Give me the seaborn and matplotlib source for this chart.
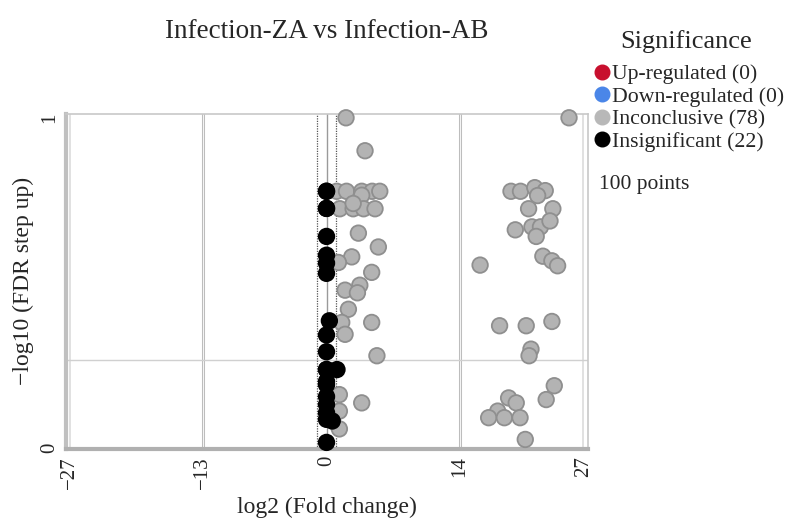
import matplotlib
matplotlib.use("Agg")
import matplotlib.pyplot as plt
from matplotlib.lines import Line2D
import seaborn as sns
import pandas as pd

# gray points (inconclusive)
gray_x = [2.05, 25.5, 4.05,
          1.07, 2.1, 3.7, 4.8, 5.6, 3.7,
          1.4, 2.8, 3.9, 5.1, 2.8,
          3.35, 5.45, 2.65, 1.25, 4.75,
          1.95, 3.5, 3.25, 2.3, 1.6, 1.95, 4.75, 5.3,
          1.35, 1.35, 3.7, 1.35,
          19.4, 20.4, 21.9, 23.0, 22.2,
          21.25, 23.8, 19.85, 21.6, 22.5, 23.5, 22.05,
          22.75, 23.7, 24.3, 16.15,
          18.2, 21.0, 23.7, 21.5, 21.3,
          23.95, 23.1, 19.15, 19.95, 18.0, 17.05, 18.7, 20.35, 20.9]
gray_y = [1.0, 1.0, 0.90,
          0.777, 0.777, 0.777, 0.777, 0.777, 0.765,
          0.724, 0.724, 0.724, 0.724, 0.74,
          0.65, 0.608, 0.578, 0.561, 0.531,
          0.477, 0.492, 0.469, 0.419, 0.379, 0.343, 0.379, 0.278,
          0.16, 0.11, 0.135, 0.056,
          0.777, 0.777, 0.788, 0.779, 0.764,
          0.724, 0.724, 0.66, 0.669, 0.669, 0.687, 0.64,
          0.58, 0.566, 0.551, 0.553,
          0.369, 0.369, 0.382, 0.298, 0.278,
          0.187, 0.145, 0.15, 0.135, 0.11, 0.09, 0.09, 0.09, 0.024]

# black points (insignificant)
black_x = [0.0, 0.0, 0.0, 0.0, 0.0, 0.0, 0.3, 0.0, 0.0, 0.0, 1.1,
           0.0, 0.0, 0.0, 0.0, 0.0, 0.6, 0.0, 0.0, 0.0, 0.0, 0.0]
black_y = [0.777, 0.725, 0.64, 0.583, 0.559, 0.528, 0.384, 0.341, 0.29, 0.236, 0.236,
           0.19, 0.154, 0.13, 0.105, 0.085, 0.08, 0.015, 0.777, 0.725, 0.236, 0.2]

legend_labels = ["Up-regulated (0)", "Down-regulated (0)", "Inconclusive (78)", "Insignificant (22)"]
legend_colors = ["#c8102e", "#4a86e8", "#b8b8b8", "#000000"]

df = pd.DataFrame({
    "fc": gray_x + black_x,
    "fdr": gray_y + black_y,
    "status": ["Inconclusive"] * len(gray_x) + ["Insignificant"] * len(black_x),
})

sns.set_style("white")
plt.rcParams["font.family"] = ["Liberation Serif", "DejaVu Serif"]

fig = plt.figure(figsize=(7.91, 5.27), dpi=100)
ax = fig.add_axes([0.0834, 0.148, 0.66, 0.636])

# grid / reference lines
for xv in [-13, 14]:
    ax.axvline(xv, color="#bdbdbd", lw=2.2, zorder=0)
    ax.axvline(xv, color="white", lw=0.6, zorder=0)
for xv in [-27, 27]:
    ax.axvline(xv, color="#dcdcdc", lw=1.2, zorder=0)
ax.axhline(0.264, color="#d0d0d0", lw=1.0, zorder=0)
ax.axvline(0, color="#9a9a9a", lw=1.0, zorder=0)
for xv in [-1, 1]:
    ax.axvline(xv, color="#555555", lw=0.9, ls=(0, (1, 1)), zorder=0)

sns.scatterplot(data=df, x="fc", y="fdr", hue="status",
                palette={"Inconclusive": "#b3b3b3", "Insignificant": "#000000"},
                edgecolor=["#8f8f8f"] * len(gray_x) + ["#000000"] * len(black_x),
                linewidth=1.3, s=125, legend=False, ax=ax, zorder=3, clip_on=False)

ax.set_xlim(-27.4, 27.5)
ax.set_ylim(-0.005, 1.012)
ax.set_xticks([-27, -13, 0, 14, 27])
ax.set_xticklabels(["\u221227", "\u221213", "0", "14", "27"], rotation=90)
ax.set_yticks([0, 1])
ax.set_yticklabels(["0", "1"], rotation=90, va="center")
ax.tick_params(axis="both", labelsize=15, length=3, color="#999999", pad=2)
ax.set_xlabel("log2 (Fold change)", fontsize=17, labelpad=6)
ax.set_ylabel("\u2212log10 (FDR step up)", fontsize=17, labelpad=4)

for side, sp in ax.spines.items():
    sp.set_visible(True)
    sp.set_color("#c8c8c8")
    sp.set_linewidth(1.2)
ax.spines["bottom"].set_linewidth(3)
ax.spines["bottom"].set_color("#b0b0b0")
ax.spines["left"].set_linewidth(3)
ax.spines["left"].set_color("#c0c0c0")

fig.text(327 / 791, 1 - 31 / 527, "Infection-ZA vs Infection-AB", ha="center", va="center", fontsize=19.5)

handles = [Line2D([], [], marker="o", ls="", markersize=10.5, markerfacecolor=c, markeredgecolor=c)
           for c in legend_colors]
leg = fig.legend(handles, legend_labels, title="Significance", loc="upper left",
                 bbox_to_anchor=(578 / 791, 1 - 19 / 527), frameon=False, fontsize=15.7,
                 title_fontsize=19, handletextpad=-0.15, labelspacing=0.1, borderpad=0,
                 handlelength=1.2)
leg._legend_box.sep = 8
fig.text(599 / 791, 1 - 184 / 527, "100 points", ha="left", va="center", fontsize=15.5)

fig.savefig("out.png", dpi=100)
